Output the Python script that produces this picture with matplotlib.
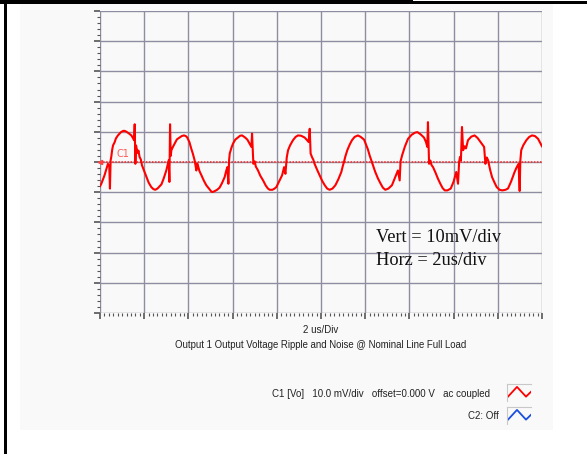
import matplotlib
matplotlib.use('Agg')
import matplotlib.pyplot as plt
from matplotlib.ticker import MultipleLocator
from matplotlib.patches import Rectangle

# ---- data read from the oscilloscope capture (time in us, ripple in mV) ----
time_us = [
    0.00, 0.06, 0.20, 0.30, 0.36, 0.42, 0.45, 0.48, 0.51, 0.55, 0.59, 0.66, 0.72, 0.81, 0.95,
    1.05, 1.12, 1.20, 1.30, 1.42, 1.50, 1.54, 1.57, 1.60, 1.63, 1.66, 1.70, 1.74, 1.79, 1.85,
    1.90, 2.00, 2.10, 2.20, 2.32, 2.42, 2.50, 2.60, 2.70, 2.78, 2.88, 3.00, 3.06, 3.11, 3.14,
    3.17, 3.20, 3.23, 3.30, 3.38, 3.48, 3.60, 3.70, 3.80, 3.88, 3.95, 4.05, 4.13, 4.20, 4.28,
    4.32, 4.36, 4.40, 4.43, 4.50, 4.59, 4.70, 4.81, 4.95, 5.05, 5.11, 5.20, 5.30, 5.41, 5.52,
    5.64, 5.70, 5.76, 5.81, 5.84, 5.87, 5.95, 6.02, 6.12, 6.24, 6.34, 6.43, 6.55, 6.67, 6.76,
    6.85, 6.88, 6.94, 7.00, 7.05, 7.15, 7.25, 7.38, 7.50, 7.60, 7.68, 7.80, 7.90, 7.98, 8.10,
    8.24, 8.30, 8.33, 8.39, 8.45, 8.51, 8.60, 8.73, 8.85, 8.96, 9.10, 9.26, 9.35, 9.44, 9.49,
    9.53, 9.60, 9.65, 9.71, 9.82, 9.94, 10.05, 10.17, 10.28, 10.39, 10.52, 10.65, 10.78, 10.92,
    10.98, 11.04, 11.10, 11.19, 11.30, 11.40, 11.52, 11.67, 11.80, 11.95, 12.05, 12.12, 12.20,
    12.28, 12.35, 12.45, 12.58, 12.70, 12.80, 12.91, 13.05, 13.21, 13.35, 13.48, 13.56, 13.60,
    13.67, 13.80, 13.94, 14.10, 14.25, 14.36, 14.50, 14.66, 14.75, 14.81, 14.84, 14.89, 14.95,
    15.00, 15.07, 15.18, 15.29, 15.40, 15.50, 15.60, 15.72, 15.87, 16.00, 16.12, 16.20, 16.25,
    16.29, 16.33, 16.38, 16.43, 16.50, 16.56, 16.65, 16.80, 16.95, 17.08, 17.22, 17.30, 17.38,
    17.44, 17.50, 17.56, 17.65, 17.74, 17.85, 17.95, 18.08, 18.20, 18.35, 18.46, 18.60, 18.76,
    18.85, 18.94, 18.99, 19.02, 19.06, 19.15, 19.29, 19.42, 19.55, 19.68, 19.82, 19.92, 20.00]
ripple_mV = [
    -8.0, -7.2, -4.5, -2.0, -0.6, -1.5, -8.8, 0.5, 1.7, 4.0, 5.5, 6.5, 7.8, 8.8, 9.9,
    10.3, 10.3, 10.0, 9.5, 8.8, 7.8, 7.2, 12.5, -0.6, 5.5, 4.4, 3.0, 3.8, 1.7, 0.8,
    -1.1, -3.0, -5.0, -6.8, -8.3, -9.0, -9.2, -8.8, -8.0, -7.4, -5.5, -2.8, -1.0, 0.6, -6.6,
    12.5, 2.0, 3.9, 5.0, 6.1, 7.5, 8.1, 8.6, 8.8, 8.6, 8.1, 6.5, 4.4, 2.8, 0.6,
    -1.0, -2.8, -0.5, -1.1, -3.0, -4.4, -6.2, -7.7, -9.0, -9.9, -9.9, -9.6, -9.2, -8.5, -7.0,
    -5.0, -3.2, -1.7, -7.2, 0.5, 2.8, 4.8, 6.1, 7.4, 8.1, 8.7, 8.8, 8.2, 7.4, 6.2,
    5.0, 9.4, -0.6, 0.2, -1.5, -2.8, -4.5, -6.1, -7.8, -8.8, -9.2, -9.2, -8.8, -8.3, -6.5,
    -4.4, -2.5, -1.7, -3.9, 1.5, 3.9, 5.5, 7.2, 8.3, 8.8, 8.7, 8.1, 7.4, 6.6, 11.0,
    2.8, 1.5, 0.8, -0.6, -2.5, -4.4, -6.2, -7.7, -8.8, -9.2, -8.8, -7.7, -5.8, -3.3,
    -1.5, 0.0, 1.8, 3.9, 5.8, 7.2, 8.3, 8.8, 8.3, 7.4, 5.5, 4.2, 2.2,
    0.5, -1.1, -3.2, -5.5, -7.2, -8.5, -9.2, -8.8, -7.7, -5.2, -2.8, -6.1, 0.2,
    2.2, 5.2, 7.7, 9.0, 9.7, 9.9, 9.2, 8.1, 6.6, 5.0, 13.2, -0.6, 0.5,
    -1.0, -1.7, -3.5, -5.5, -7.2, -8.6, -9.4, -9.4, -8.8, -6.5, -3.3, -7.2, 0.0,
    1.7, 0.5, 11.6, 3.9, 5.2, 4.5, 7.2, 8.4, 8.8, 8.0, 6.6, 5.8, 5.0,
    -0.6, 1.5, 0.6, -2.5, -5.0, -6.8, -8.3, -9.2, -9.4, -9.2, -8.8, -6.5, -3.3,
    -1.8, -0.6, -9.6, 0.5, 3.9, 5.5, 7.2, 8.3, 8.8, 8.6, 7.7, 6.3, 5.2]

x_limits = [0, 20]        # 10 divisions x 2 us
y_limits = [-50, 50]      # 10 divisions x 10 mV
x_div, x_minor = 2, 0.2
y_div, y_minor = 10, 2

channel_name = 'C1'
x_caption = '2 us/Div'
title_caption = 'Output 1 Output Voltage Ripple and Noise @ Nominal Line Full Load'
scale_notes = ['Vert = 10mV/div', 'Horz = 2us/div']
legend_c1 = 'C1 [Vo]   10.0 mV/div   offset=0.000 V   ac coupled'
legend_c2 = 'C2: Off'

# ---- figure ----
W, H = 587, 454
fig = plt.figure(figsize=(W / 100, H / 100), dpi=100)
fig.patch.set_facecolor('white')


def fx(px):
    return px / W


def fy(py):
    return 1 - py / H


# light panel behind the scope display
fig.add_artist(Rectangle((fx(20), fy(430)), (553 - 20) / W, (430 - 4) / H,
                         transform=fig.transFigure, facecolor='#f9f9f9',
                         edgecolor='none', zorder=0))
# black frame pieces of the screenshot
fig.add_artist(Rectangle((0, fy(3.5)), 413 / W, 3.5 / H, transform=fig.transFigure,
                         facecolor='black', edgecolor='none', zorder=5))
fig.add_artist(Rectangle((fx(413), fy(3.5)), (W - 413) / W, 2 / H, transform=fig.transFigure,
                         facecolor='black', edgecolor='none', zorder=5))
fig.add_artist(Rectangle((fx(4), 0), 2.5 / W, 1, transform=fig.transFigure,
                         facecolor='black', edgecolor='none', zorder=5))

ax = fig.add_axes([fx(100), fy(313), 442 / W, 302 / H])
ax.set_facecolor('#f9f9f9')
ax.set_xlim(x_limits)
ax.set_ylim(y_limits)
ax.xaxis.set_major_locator(MultipleLocator(x_div))
ax.xaxis.set_minor_locator(MultipleLocator(x_minor))
ax.yaxis.set_major_locator(MultipleLocator(y_div))
ax.yaxis.set_minor_locator(MultipleLocator(y_minor))
ax.tick_params(which='both', direction='out', labelbottom=False, labelleft=False,
               color='#555555')
ax.tick_params(which='major', length=4, width=1.2)
ax.tick_params(which='minor', length=2.5, width=0.8)
for s in ax.spines.values():
    s.set_visible(False)
ax.grid(True, which='major', color='#8e8ea2', lw=1)
ax.set_axisbelow(True)
for t in ax.yaxis.get_major_ticks():
    if abs(t.get_loc() - y_limits[0]) < 1e-6:
        t.gridline.set_visible(False)

ax.axhline(0, color='#ff2020', ls=(0, (1, 1)), lw=1.1, zorder=2)
ax.plot([x_limits[0]], [0], marker='<', color='#ff4040', ms=3, zorder=3, clip_on=False)
ax.text(0.75, 1.5, channel_name, color='#ff5a5a', fontsize=7, zorder=3)
ax.plot(time_us, ripple_mV, color='#ff0000', lw=1.5, zorder=4)

# notes inside the display
fig.text(fx(376), fy(241.7), scale_notes[0], family='Liberation Serif', fontsize=13.2,
         va='baseline', ha='left', color='#111111')
fig.text(fx(376), fy(265), scale_notes[1], family='Liberation Serif', fontsize=13.2,
         va='baseline', ha='left', color='#111111')

sans = ['Liberation Sans Narrow', 'Liberation Sans', 'DejaVu Sans']
fig.text(fx(321), fy(330), x_caption, family=sans, fontsize=7, ha='center', va='center',
         color='#222222')
fig.text(fx(321), fy(345), title_caption, family=sans, fontsize=6.9, ha='center',
         va='center', color='#222222')
fig.text(fx(490), fy(394), legend_c1, family=sans, fontsize=7, ha='right', va='center',
         color='#222222')
fig.text(fx(499), fy(416), legend_c2, family=sans, fontsize=7, ha='right', va='center',
         color='#222222')

# legend icons
for top, col in [(384, '#ff0000'), (407, '#1a4fe0')]:
    ia = fig.add_axes([fx(507), fy(top + 17), 24 / W, 17 / H])
    ia.set_facecolor('#f9f9f9')
    ia.set_xlim(0, 2.4)
    ia.set_ylim(-0.45, 1.3)
    ia.plot([0.1, 1.0, 1.9, 2.4], [0, 1, 0, 0.5], color=col, lw=1.3)
    ia.set_xticks([])
    ia.set_yticks([])
    for k, s in ia.spines.items():
        s.set_color('#c8c8c8')
        s.set_visible(k in ('left', 'top'))

fig.savefig('out.png', dpi=100)
